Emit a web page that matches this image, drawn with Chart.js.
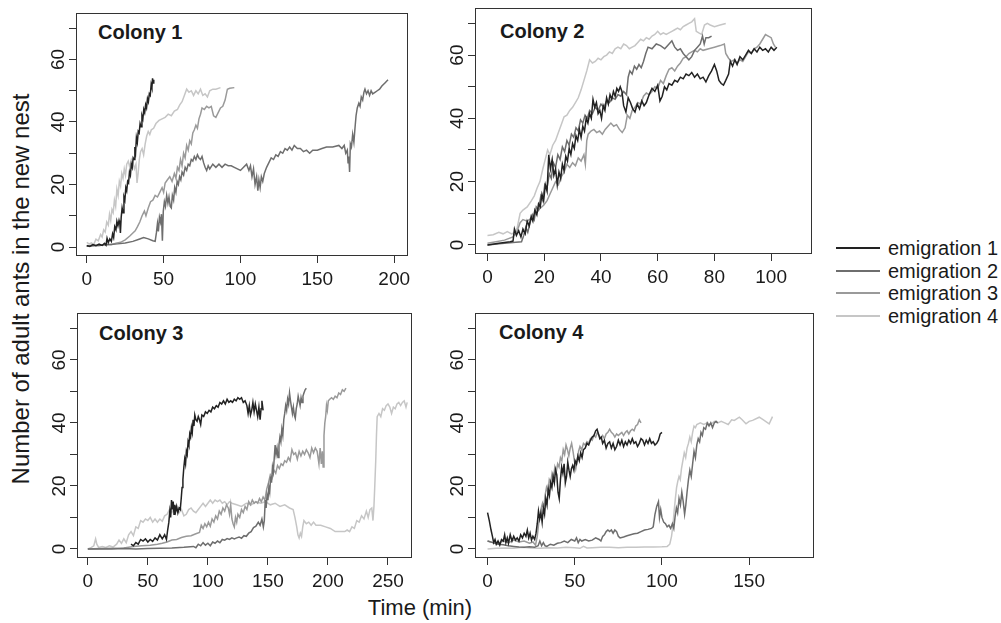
<!DOCTYPE html>
<html>
<head>
<meta charset="utf-8">
<script src="https://cdn.jsdelivr.net/npm/chart.js@4.4.0/dist/chart.umd.min.js"></script>
<style>
  body { margin: 0; background: #fff; width: 1001px; height: 623px; position: relative; overflow: hidden;
         font-family: "Liberation Sans", Arial, sans-serif; color: #1a1a1a; }
  canvas { position: absolute; }
  .txt { position: absolute; white-space: nowrap; }
  .title { font-weight: bold; font-size: 20px; line-height: 20px; }
  .leg { font-size: 20px; line-height: 20px; }
  .legline { position: absolute; height: 1.5px; width: 44px; left: 836px; }
</style>
</head>
<body>

<div class="txt title" style="left:98px;top:22px">Colony 1</div>
<div class="txt title" style="left:500px;top:21px">Colony 2</div>
<div class="txt title" style="left:99px;top:323px">Colony 3</div>
<div class="txt title" style="left:499px;top:322px">Colony 4</div>

<div class="txt" style="left:20.5px;top:289px;font-size:24px;line-height:24px;transform:translate(-50%,-50%) rotate(-90deg)">Number of adult ants in the new nest</div>
<div class="txt" style="left:420px;top:597px;font-size:22px;line-height:22px;transform:translateX(-50%)">Time (min)</div>

<div id="legend"></div>

<script>
// series names and colours
const seriesNames = ["emigration 1", "emigration 2", "emigration 3", "emigration 4"];
const seriesColors = ["#222222", "#6e6e6e", "#9a9a9a", "#c6c6c6"];

// tick values
const yTicks = [0, 10, 20, 30, 40, 50, 60, 70];
const xTicks1 = [0, 50, 100, 150, 200];
const xTicks2 = [0, 20, 40, 60, 80, 100];
const xTicks3 = [0, 50, 100, 150, 200, 250];
const xTicks4 = [0, 50, 100, 150];

// Colony 1  [time (min), ants]
const c1e1 = [[0,0.5],[2,0.2],[4,0.8],[6,0.4],[8,0.9],[10,0.5],[11.5,1.2],[12.5,0.6],[13.2,2.8],[14,1.4],[15,2.6],[16,1.8],[16.8,4.2],[17.5,3],[18.2,6.5],[19,5.5],[19.6,8.2],[20.3,6.8],[21,8.5],[21.5,7.5],[21.9,4.5],[22.4,9.5],[23,12.5],[23.6,11],[24.2,16],[24.8,15],[25.4,19],[26,18],[26.6,21],[27.2,20.5],[27.8,24],[28.4,23],[29,26.5],[29.6,25.5],[30.2,28.5],[30.8,28],[31.3,32],[31.8,30.5],[32.3,35],[32.9,33.5],[33.5,37],[34.1,36.5],[34.7,39.5],[35.3,38.5],[35.9,42],[36.5,41],[37.1,44],[37.7,43],[38.3,45.5],[38.9,44.5],[39.5,47.5],[40.1,46.5],[40.7,49],[41.3,48.5],[41.9,52],[42.4,51],[42.8,54],[43.2,52.5],[43.6,53.5]];
const c1e2 = [[0,0.2],[5,0.4],[10,0.6],[15,0.8],[20,1],[25,1.3],[30,1.8],[34,2.5],[37,3],[40,2.6],[43,2],[44.5,1.8],[45.3,4.5],[46,7.5],[46.6,5],[47.3,9.5],[48,8],[48.6,10.5],[49.2,2],[49.8,11.5],[50.5,14.5],[51.2,13],[52,16.5],[52.8,14],[53.5,16],[54.3,13],[55,12.5],[55.7,16.5],[56.5,15],[57.2,19],[58,17.5],[58.8,21],[59.6,20],[60.4,22.5],[61.2,21.5],[62,24],[63,23],[64,25.5],[65,24.5],[66,26.5],[67,26],[68,28],[69,27.5],[70,29],[71,28],[72,29.5],[73,28.5],[74,28],[75,29],[76,27],[77,25.5],[78,24.5],[79,26],[80,25],[82,26.5],[84,25.5],[86,26.5],[88,25.5],[90,26.5],[92,26],[94,26],[96,25.5],[98,25],[100,24.5],[102,25.5],[104,26.5],[105.5,24.5],[106.5,26],[107.5,22.5],[108.5,25],[109.5,20],[110.5,22.5],[111.3,18],[112,21.5],[112.8,19],[113.6,22.5],[114.5,21],[115.5,23.5],[117,25.5],[118.5,27],[120,28.5],[121.5,28],[123,29.5],[124.5,29],[126,30.5],[127.5,30],[129,31.5],[130.5,31],[132,32],[133.5,31],[135,32.5],[137,31.5],[139,31.5],[141,30.5],[143,31],[145,30],[147,31],[150,31],[153,31.5],[156,32],[160,32],[164,32.5],[166,31.5],[167.5,32.5],[168.5,30],[169.5,31],[170,27],[170.5,29],[171,24],[171.5,33],[172.2,32],[173,36],[173.8,33.5],[174.5,38],[175.2,42],[176,44.5],[177,46],[177.8,45],[178.6,48],[179.5,47],[180.3,49.5],[181,50.5],[182,49],[183,50],[184,48.5],[185,50],[186,49],[187.5,49.5],[189,50],[190.5,50.5],[192,51.5],[194,52.5],[196,53.5]];
const c1e3 = [[0,0.3],[4,0.6],[8,0.4],[12,0.9],[16,0.7],[19,1.2],[22,1.5],[25,2.3],[28,3.5],[30,4.5],[31.5,5.2],[33,6.5],[34.5,8],[36,10],[37.5,11.5],[38.5,10],[40,12.5],[41.5,14.5],[43,15],[44.5,16.5],[46,16],[47.5,17.5],[49,19],[50,17.5],[51,20.5],[52.5,21.5],[54,22.5],[55.5,21],[57,23.5],[58,22],[59,25.5],[60,24.5],[61,28],[62,26],[63,30],[64,28.5],[65,32.5],[66,31],[67,34],[68,33],[69,36.5],[70,37.5],[71,39],[72,38],[73,41],[74,42.5],[75,44.5],[76.5,44],[78,45],[79.5,44.5],[81,45],[82.5,42],[84,41.5],[85.5,43],[87,44.5],[88.5,45],[90,47],[91.5,50.5],[93,50.8],[96,51]];
const c1e4 = [[0,1.5],[1.5,1],[3,1.3],[4.5,0.8],[6,2.5],[7.5,2],[9,4],[10,3.2],[11,5.5],[12,4.8],[13,8],[14,7],[14.8,10.5],[15.6,8.5],[16.4,12],[17.2,11],[18,15],[18.8,13],[19.6,18.5],[20.4,16.5],[21.2,21],[22,19.5],[22.8,23.5],[23.6,22],[24.4,25],[25.2,23],[26,26.5],[27,27.5],[28,25.5],[29,28],[30,27],[31,25],[32,26.5],[32.7,20.5],[33.4,23.5],[34.2,28],[35,30.5],[36,31.5],[37,29.5],[38,33],[39,35.5],[40,37],[41,36],[42,37.5],[43.5,38],[45,39.5],[47,40.5],[49,41],[51,41.5],[53,42.5],[55,42],[57,43.5],[59,44],[60.5,45.5],[62,46.5],[63.5,48.5],[65,50.5],[66.5,49.5],[68,50],[69.5,48.5],[71,50],[72.5,49],[74,50.5],[75.5,48.5],[77,49],[78.5,48],[80,50],[82,50.5],[84,50.5],[87,51]];

// Colony 2
const c2e1 = [[0,0],[4,0.5],[8,1],[9,1.2],[9.5,5],[10.2,3],[11,4.5],[11.8,2.5],[12.5,5],[13.3,3.5],[14,7.5],[14.7,6],[15.4,9],[16,7.5],[16.7,11],[17.4,9.5],[18,13],[18.6,12],[19.2,16],[19.8,14],[20.4,19],[21,17],[21.6,28.5],[22.2,24],[22.8,27],[23.4,22],[24,24],[24.6,19],[25.2,23],[25.8,21],[26.4,25.5],[27,23.5],[27.6,28],[28.2,26.5],[28.8,30.5],[29.4,28.5],[30,32],[30.6,30.5],[31.2,34.5],[31.8,33],[32.4,36.5],[33,34],[33.6,37.5],[34.2,36],[34.8,40],[35.4,38.5],[36,41.5],[36.6,40],[37.2,46],[37.8,43.5],[38.4,45],[39,41.5],[39.6,42.5],[40.2,40],[40.8,44],[41.4,42.5],[42,46.5],[42.6,44.5],[43.2,47.5],[43.8,46],[44.4,48.5],[45,47],[45.6,49.5],[46.2,48.5],[46.8,50],[47.4,48.5],[48,44],[48.8,42],[49.6,46.5],[50.4,45],[51.2,43],[52,42],[52.8,44.5],[53.6,43],[54.4,45.5],[55.2,44],[56,45],[57,47.5],[58,49.5],[59,48.5],[60,50.5],[60.8,45.5],[61.6,47],[62.4,50],[63.2,49],[64,51],[65,50.5],[66,52],[67,51.5],[68,53],[69,52.5],[70,54],[71,53.5],[72,54.5],[73,53],[74,54],[75,52.5],[76,53],[77,51.5],[78,53.5],[79,55],[80,57],[80.8,55],[81.6,52],[82.4,51],[83.2,50.5],[84,52],[85,54],[85.6,58],[86.4,56.5],[87.2,58.5],[88,57],[89,59.5],[90,58.5],[91,60],[92,61.5],[93,60.5],[94,62],[95,61],[96,62.5],[97,61.5],[98,62],[99,61],[100,62.5],[101,61.5],[102,62.5]];
const c2e2 = [[0,0],[5,0.4],[10,0.8],[12,1],[12.8,3],[13.5,5.5],[14.2,4],[15,7],[15.8,9.5],[16.5,8],[17.2,12],[18,11],[18.8,15.5],[19.5,14],[20.2,19],[21,18],[21.8,22.5],[22.5,21],[23.2,26],[24,24.5],[24.8,28.5],[25.6,27],[26.4,31],[27.2,29.5],[28,33],[28.8,31.5],[29.6,35],[30.4,34],[31.2,37],[32,36],[32.8,39.5],[33.6,38.5],[34.4,41],[35.2,40],[36,42.5],[37,41.5],[38,43.5],[39,42.5],[40,44.5],[41,43.5],[42,45.5],[43,45],[44,46.5],[45,46],[46,47.5],[47,47],[48,48.5],[49,47.5],[49.6,53],[50.2,55],[51,54],[51.8,56.5],[52.6,55.5],[53.4,57],[54.2,56],[55,58],[55.8,60.5],[56.6,62.5],[58,62],[59.5,63.5],[61,63],[62.5,62],[64,63.5],[65,64.5],[66,62.5],[67,61.5],[68,62],[69,60.5],[70,59.5],[71,58.5],[72,59.5],[73,61.5],[74,62.5],[75,63.5],[75.8,66],[76.4,63.5],[77,65.5],[78,65.5],[79,66]];
const c2e3 = [[0,0.5],[3,1],[6,1.5],[9,2.5],[10.5,4.5],[11.5,7],[12.5,8],[14,7.5],[15.5,8.5],[17,10],[18.5,11.5],[19.8,12.5],[21,14],[22,16],[23,18],[24,20],[25,19],[26,21.5],[27,23],[28,25.5],[29,24.5],[30,26],[31,25],[32,27.5],[33,26.5],[34,28.5],[34.5,25.5],[35,33],[35.5,35],[36.5,36],[37.5,36.5],[38.5,35.5],[39.5,36],[40.5,35],[41.5,36.5],[42.5,37.5],[43.5,38.5],[44.5,37.5],[45.5,38],[46.5,36.5],[47.5,35.5],[48.5,37],[49.3,41],[50.2,40],[51,42.5],[52,43.5],[53,45],[54,44.5],[55,47],[56,48],[57,47.5],[58,48.5],[59,50],[60,49.5],[61,52],[62,51],[63,53.5],[64,55.5],[65,56],[66,55],[67,56.5],[68,57.5],[69,59],[70,59.5],[71,60.5],[72,61],[73,61.5],[74,61],[75,62],[76,61.5],[78,62],[80,62.5],[82,63],[83.5,63.5],[84,60.5],[85,59],[86,58],[87,58.5],[88,57.5],[89,58.5],[90,58],[91,59.5],[92,61],[93,60.5],[94,62],[95,62.5],[96,63.5],[97,65],[98,66.5],[99,66],[100,65.5],[100.8,63.5],[101.5,62.5]];
const c2e4 = [[0,3],[2,3.2],[4,4],[5.5,3.5],[7,4.2],[8.5,3.5],[9.5,3.8],[10.5,5.5],[11.5,10],[12.5,11],[14,12],[15.5,14],[16.5,15.5],[17.5,18],[18.5,20],[19.5,24],[20.5,27.5],[21.2,30],[22,28.5],[23,31.5],[24,33],[25,35.5],[26,38],[27,40.5],[28,41],[29,42.5],[30,43.5],[31,45],[32,46.5],[33,49],[34,52],[35,55],[36,58.5],[37,57.5],[38,58],[39,59],[40,58.5],[41,59.5],[42,60],[43,61],[44,60.5],[45,62],[46,62.5],[47,62],[48,63.5],[49,63],[50,62],[51,62.5],[52,63],[53,64],[54,65],[55,64.5],[56,65.5],[57,65],[58,66],[59,66.5],[60,67.5],[61,66.5],[62,67],[63,66.5],[64,67],[65,67.5],[66,68],[67,68.5],[68,68],[69,69],[70,69.5],[71,70],[72,70.5],[73,71.5],[73.6,67.5],[74.5,67],[75.5,66.5],[76.5,69.5],[77.5,70],[78.5,69.5],[80,69],[82,69.5],[84,70]];

// Colony 3
const c3e1 = [[36,1.5],[38,1],[40,2],[42,1.5],[44,3],[46,2.5],[48,3.2],[50,2.2],[52,3],[54,2.4],[56,3.5],[58,2.8],[60,4.5],[62,3.2],[64,4.5],[65.5,3],[66.5,6],[67.5,8.5],[68.3,12],[69,10],[69.7,15.5],[70.4,12.5],[71.1,15],[71.8,11],[72.5,14],[73.2,12],[74,13.5],[75,11.5],[76,13],[77,12.5],[77.8,16],[78.5,19.5],[79.2,22],[80,26],[80.7,28.5],[81.4,27],[82.1,31],[82.8,30],[83.5,34],[84.2,33],[84.9,36.5],[85.6,35.5],[86.3,38.5],[87,37],[87.7,41],[88.4,39],[89.1,42.5],[90,41],[91,40.5],[92,42],[93,41],[94,39.5],[95,42.5],[96.5,42],[98,43.5],[99.5,43],[101,44],[102.5,43.5],[104,45],[105.5,44.5],[107,45.5],[108.5,45],[110,46.5],[111.5,46],[113,47],[114.5,46],[116,47.5],[117.5,46.5],[119,47],[120.5,46.5],[122,47.5],[123.5,47],[125,48],[126.5,47.5],[128,48],[129.5,46.5],[131,47],[132.5,45.5],[133.5,43],[134.5,45.5],[135.5,42.5],[136.5,44],[137.5,46.5],[138.5,43.5],[139.5,46],[140.5,44],[141.5,42],[142.5,45],[143.5,41],[144.3,44.5],[145,47],[146,44]];
const c3e2 = [[0,0],[10,0],[20,0],[30,0.1],[40,0],[50,0.1],[60,0.2],[70,0.3],[80,0.5],[88,0.8],[90,0.4],[92,1.5],[94,1],[96,2],[98,1.2],[100,1.8],[102,1],[104,2.2],[106,1.8],[108,2.5],[110,2],[112,3],[114,2.8],[116,3.3],[118,3],[120,3.5],[122,3.2],[124,3.5],[126,3.8],[128,3.4],[130,4.2],[132,4],[134,5],[136,5.5],[138,6.8],[140,7.2],[142,8.5],[143.5,7.5],[145,9.5],[146.2,7],[147,9],[147.8,15.5],[148.5,13],[149.3,17],[150,15.5],[150.8,19.5],[151.5,18],[152.3,23],[153,21],[153.8,26],[154.5,24.5],[155.3,29],[156,33],[156.8,30],[157.6,32],[158.4,29],[159.2,33],[160,35.5],[160.8,34],[161.6,38],[162.4,36],[163.2,41],[164,43],[164.8,45.5],[165.6,44],[166.4,47.5],[167.2,46],[168,49.5],[168.8,47],[169.6,45],[170.4,43],[171.2,45],[172,42.5],[172.8,41.5],[173.6,44.5],[174.4,46],[175.2,48.5],[176,47],[176.8,45.5],[177.6,48],[178.4,46.5],[179.2,48.5],[180,49.5],[181,50.5],[182,51]];
const c3e3 = [[0,0],[10,0.1],[20,0.2],[30,0.3],[38,0.8],[45,1],[52,1.2],[58,1.5],[62,1.8],[66,2.2],[70,2.8],[74,3],[78,3.6],[82,4],[86,4.2],[90,4.8],[93,5.2],[94.5,7.5],[96,6.5],[97.5,8],[99,7],[100.5,8.5],[102,7.2],[103.5,9.5],[105,8.5],[106.5,10.5],[108,9.5],[109.5,12],[111,11],[112.5,13],[114,12],[115.5,14],[117,13],[118,11],[119,14],[120,9.5],[121,8],[122,7],[123,10],[124,8.5],[125,11],[126.5,10],[128,12.5],[129.5,11.5],[131,13.5],[132.5,12.5],[134,15],[135.5,14],[137,15.5],[138.5,14.5],[140,15],[141.5,14.5],[143,16],[144.5,15],[146,16.5],[147.5,15.5],[149,19],[150.5,21],[152,23.5],[153.5,22.5],[155,25],[156.5,24],[158,26.5],[159.5,25.5],[161,27],[162.5,26.5],[164,28],[165.5,27.5],[167,29],[168.5,28],[170,31.5],[171.5,30],[173,30.5],[174.5,28.5],[176,31],[177.5,29.5],[179,31],[180.5,30],[182,31.5],[183.5,30.5],[185,29],[186.5,32],[188,30.5],[189.5,32],[191,31],[192.5,27],[193.5,32],[194.5,27],[195.3,31],[196,26],[196.7,36],[197.4,40],[198.1,42],[198.8,45.5],[199.5,44],[200.3,47],[201.5,47.5],[203,48],[204.5,47.5],[206,48.5],[207.5,48],[209,49.5],[210.5,49],[212,50.5],[213.5,50],[215,51]];
const c3e4 = [[0,0],[3,0.5],[5,1],[6.5,3.2],[7.5,1.5],[9,0.5],[12,0.8],[15,0.5],[18,1],[21,0.6],[24,1.5],[26,2.8],[28,1.8],[30,3.2],[32,2],[34,4.5],[36,5.5],[38,4.2],[40,7],[42,6.5],[44,9],[46,8.5],[48,9.5],[50,9],[52,10],[54,8.5],[56,9.5],[58,8.5],[60,9.5],[62,8.8],[64,10.5],[66,11],[68,12.5],[70,11.5],[72,13],[74,12],[76,11.5],[78,12.5],[80,10.5],[82,11],[84,12.5],[86,13],[88,12],[90,11.5],[92,12.5],[94,13.5],[96,14.5],[98,13.5],[100,14.5],[102,15.5],[104,14.5],[106,15.5],[108,15],[110,15.5],[112,14.5],[114,15],[116,14],[118,15],[120,14.5],[124,14],[128,13.5],[132,14.5],[136,14],[140,15],[144,14.5],[148,15],[152,14],[156,14.5],[160,13.5],[164,14],[168,13],[171,12.5],[172.5,10],[174,7],[175,4.5],[176,3.5],[177,5],[178,4],[179,7],[180,9],[182,8],[184,8.5],[186,7.5],[188,8.5],[190,7.5],[194,7.5],[198,7],[202,6.5],[206,5.5],[210,5.5],[214,5.5],[216,6],[218,5.5],[220,7],[222,6.5],[224,9],[226,8.5],[228,10.5],[230,9.5],[232,12],[233.5,10],[235,12.5],[236.5,13],[237.5,9],[238.3,13.5],[239,20],[239.8,28],[240.4,36],[241,42],[242.5,43],[244,42],[245.5,44.5],[247,44],[248.5,45.5],[250,46],[251.5,45],[253,43],[254.5,45],[256,44.5],[257.5,46],[259,46.5],[260.5,45.5],[262,46.5],[263.5,47],[265,45],[266,46.5]];

// Colony 4
const c4e1 = [[0,11.5],[1,9],[2,6],[2.8,4],[3.5,2],[4.3,3],[5,1.5],[6,2.5],[7,1.2],[8,3],[9,2.5],[9.8,4.5],[10.5,2],[11.3,3.5],[12,1.8],[13,4.5],[14,2.5],[15,4],[16,2.8],[17,3.5],[18,2.5],[19,4.5],[20,3.5],[21,5],[22,4],[22.8,6],[23.6,3.5],[24.4,5],[25.2,2.8],[26,4],[27,3],[27.8,5],[28.5,8],[29.2,12],[29.9,9.5],[30.6,11.5],[31.3,8.5],[32,13],[32.7,11],[33.4,16],[34.1,14],[34.8,19],[35.5,17],[36.2,21],[36.9,19.5],[37.6,23],[38.3,21],[39,25],[39.7,23.5],[40.4,18],[41.1,16],[41.8,22],[42.5,26],[43.2,24],[43.9,27],[44.6,21],[45.3,23],[46,27.5],[46.7,25],[47.4,23],[48.1,25.5],[48.8,26.5],[49.5,25],[50.2,28],[51,27],[51.8,29.5],[52.6,28],[53.4,30.5],[54.2,29],[55,31.5],[56,32],[57,33.5],[58,33],[59,34.5],[60,35.5],[61,36],[62,37.5],[62.8,38],[63.6,36.5],[64.4,35],[65.2,35.5],[66,33.5],[67,34.5],[68,32],[69,33.5],[70,34],[71,32],[72,33.5],[73,31.5],[74,32.5],[75,34.5],[76,33],[77,34.5],[78,32.5],[79,34],[80,33],[81,34.5],[82,33.5],[83,35],[84,33.5],[85,34],[86,32.5],[87,33.5],[88,35],[89,34.5],[90,33],[91,34.5],[92,33.5],[93,35],[94,33.5],[95,34],[96,33],[97,33.5],[98,34.5],[99,36.5],[100,37]];
const c4e2 = [[0,2.5],[3,2],[6,1.5],[9,1.3],[12,1],[15,0.8],[18,0.6],[21,0.5],[24,0.7],[27,0.5],[29,1],[30,2.5],[31,1],[32,2],[33,1],[34,0.8],[36,1.5],[38,1.2],[40,1.8],[42,2],[44,2.5],[46,2],[48,3],[50,2.5],[51,3.5],[52,2],[53,3],[54,2.5],[56,3],[58,2.5],[60,2.8],[62,3.5],[64,3],[65,2.5],[66,4],[67,4.5],[68,5.5],[69,6],[70,5.5],[71,6],[72,5],[73,6],[74,5.5],[75,4],[76,3.5],[78,3.8],[80,4.2],[82,4.5],[84,4.8],[86,5],[88,5.5],[90,6],[92,6.2],[94,6.5],[95,7],[96,11],[97,13.5],[98,15],[98.6,10],[99.3,12.5],[100,10],[101,8.5],[102,8],[103,7],[104,7.5],[105,6.5],[106,8],[106.8,6.5],[107.5,10],[108.3,13],[109,11.5],[109.8,16],[110.6,14],[111.4,18],[112.2,15],[113,11],[113.7,14],[114.4,18],[115.2,22],[116,25],[116.8,23],[117.6,27],[118.4,31],[119.2,29],[120,33],[120.8,35],[121.6,34],[122.4,37],[123.2,36],[124,38.5],[125,38],[126,40],[127,39],[128,40],[129,38.5],[130,40],[131,40.5],[132,40]];
const c4e3 = [[0,2.5],[3,2],[6,1.8],[9,2.5],[12,2],[15,2.8],[18,2.2],[21,2.5],[24,1.8],[26,2.2],[27.5,1.2],[28.5,4],[29.3,8],[30,10.5],[30.8,13],[31.5,14.5],[32.2,13],[33,17],[33.8,19.5],[34.6,18],[35.4,22],[36.2,21],[37,24],[37.8,22.5],[38.6,26],[39.4,24.5],[40.2,27],[41,26],[41.8,29],[42.6,28],[43.4,31.5],[44.2,30],[45,33],[45.8,31.5],[46.6,29.5],[47.4,32],[48.2,33.5],[49,31],[49.8,28],[50.6,25.5],[51.4,28],[52.2,31],[53,32.5],[54,31.5],[55,33.5],[56,33],[57,34],[58,33.5],[59,35],[60,34.5],[61,36],[62,35.5],[63,37],[64,36],[65,35],[66,36],[67,35],[68,36.5],[69,37],[70,38],[71,37],[72,36.5],[73,35.5],[74,36.5],[75,36],[76,36.5],[77,37],[78,36],[79,37],[80,37.5],[81,36.5],[82,37.5],[83,38],[84,37.5],[85,39],[86,39.5],[87,41],[88,40]];
const c4e4 = [[0,0],[5,0.2],[10,0.3],[15,0.2],[20,0.5],[25,0.3],[30,0.2],[35,0.4],[40,0.3],[45,0.5],[50,0.4],[53,0.2],[55,0.8],[57,0.3],[60,0.4],[65,0.5],[70,0.5],[75,0.4],[80,0.5],[85,0.5],[90,0.6],[95,0.6],[100,0.7],[103,0.8],[104.5,1.5],[105.5,4],[106.3,7.5],[107,12],[107.7,16],[108.4,19.5],[109.1,21.5],[109.8,23],[110.5,22],[111.2,25.5],[112,28],[112.8,30.5],[113.6,29],[114.4,32],[115.2,33.5],[116,35.5],[116.8,34],[117.6,37],[118.4,39],[119.2,38.5],[120,39.5],[122,40],[124,39.5],[126,40],[128,39.5],[130,40.5],[132,40],[134,40.5],[136,40],[138,39.5],[140,41],[141.5,40.8],[144.4,41.8],[146,41],[148.2,39.7],[150,40.5],[152,40.8],[155.8,41.8],[158,41],[161.5,39.7],[163.4,42]];

// layout of the four panels (page px of the plot box) and axis ranges
const panels = [
  { box: [76, 13, 408, 256],  xMin: -7,   xMax: 209,   xTicks: xTicks1, series: [c1e1, c1e2, c1e3, c1e4] },
  { box: [475, 8, 812, 254],  xMin: -4.4, xMax: 114.4, xTicks: xTicks2, series: [c2e1, c2e2, c2e3, c2e4] },
  { box: [77, 313, 412, 558], xMin: -9,   xMax: 270,   xTicks: xTicks3, series: [c3e1, c3e2, c3e3, c3e4] },
  { box: [475, 313, 814, 558],xMin: -7.2, xMax: 187.2, xTicks: xTicks4, series: [c4e1, c4e2, c4e3, c4e4] }
];
const yMin = -2.88, yMax = 74.88;

const FONT = "'Liberation Sans', Arial, sans-serif";
const LEFT = 60, BOTTOM = 45, TOP = 2, RIGHT = 25;

// draws the closed frame round the plot area
const framePlugin = {
  id: "frame",
  afterDraw(chart) {
    const a = chart.chartArea;
    const ctx = chart.ctx;
    ctx.save();
    ctx.strokeStyle = "#333";
    ctx.lineWidth = 1;
    ctx.strokeRect(Math.round(a.left) + 0.5, Math.round(a.top) + 0.5,
      Math.round(a.right - a.left) - 1, Math.round(a.bottom - a.top) - 1);
    ctx.restore();
  }
};

function noPad(s) {
  s.paddingTop = 0; s.paddingBottom = 0; s.paddingLeft = 0; s.paddingRight = 0;
}

panels.forEach(function (p) {
  var L = p.box[0], T = p.box[1], R = p.box[2], B = p.box[3];
  var cv = document.createElement("canvas");
  cv.width = (R - L) + LEFT + RIGHT;
  cv.height = (B - T) + TOP + BOTTOM;
  cv.style.left = (L - LEFT) + "px";
  cv.style.top = (T - TOP) + "px";
  document.body.appendChild(cv);

  var datasets = p.series.map(function (s, i) {
    return {
      label: seriesNames[i],
      data: s.map(function (d) { return { x: d[0], y: d[1] }; }),
      borderColor: seriesColors[i],
      borderWidth: 1.5,
      pointRadius: 0,
      tension: 0,
      fill: false
    };
  });

  new Chart(cv.getContext("2d"), {
    type: "line",
    data: { datasets: datasets },
    options: {
      responsive: false,
      animation: false,
      devicePixelRatio: 1,
      layout: { padding: { top: TOP, right: RIGHT, left: 0, bottom: 0 } },
      plugins: { legend: { display: false }, tooltip: { enabled: false } },
      scales: {
        x: {
          type: "linear",
          min: p.xMin,
          max: p.xMax,
          afterBuildTicks: function (s) { s.ticks = p.xTicks.map(function (v) { return { value: v }; }); },
          afterFit: function (s) { s.height = BOTTOM; noPad(s); },
          border: { display: false },
          grid: { drawOnChartArea: false, drawTicks: true, tickLength: 7, color: "#333" },
          ticks: {
            autoSkip: false, maxRotation: 0, padding: 5, color: "#1a1a1a",
            font: { family: FONT, size: 19 },
            callback: function (v) { return String(v); }
          }
        },
        y: {
          type: "linear",
          min: yMin,
          max: yMax,
          afterBuildTicks: function (s) { s.ticks = yTicks.map(function (v) { return { value: v }; }); },
          afterFit: function (s) { s.width = LEFT; noPad(s); },
          border: { display: false },
          grid: { drawOnChartArea: false, drawTicks: true, tickLength: 7, color: "#333" },
          ticks: {
            autoSkip: false, minRotation: 90, maxRotation: 90, crossAlign: "center", padding: 0,
            color: "#1a1a1a",
            font: { family: FONT, size: 19 },
            callback: function (v) { return v % 20 === 0 ? String(v) : ""; }
          }
        }
      }
    },
    plugins: [framePlugin]
  });
});

// legend at the right
var legY = [248, 271, 293, 316];
var leg = document.getElementById("legend");
seriesNames.forEach(function (name, i) {
  var line = document.createElement("div");
  line.className = "legline";
  line.style.top = (legY[i] - 0.75) + "px";
  line.style.background = seriesColors[i];
  leg.appendChild(line);
  var t = document.createElement("div");
  t.className = "txt leg";
  t.style.left = "888px";
  t.style.top = (legY[i] - 10) + "px";
  t.textContent = name;
  leg.appendChild(t);
});
</script>
</body>
</html>
